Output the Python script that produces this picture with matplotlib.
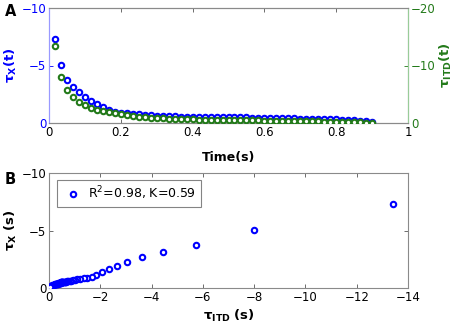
import numpy as np
import matplotlib
matplotlib.use("Agg")
import matplotlib.pyplot as plt

# time points (s)
time_s = [k / 60 for k in range(1, 55)]

# tau_X(t) (left axis of A, y of B)
tau_x = [-7.3, -5.05, -3.72, -3.14, -2.71, -2.23, -1.91, -1.65, -1.36, -1.16, -0.98,
         -0.90, -0.84, -0.78, -0.74, -0.70, -0.67, -0.64, -0.62, -0.60, -0.58,
         -0.56, -0.55, -0.54, -0.53, -0.52, -0.52, -0.51, -0.50, -0.50, -0.49,
         -0.48, -0.48, -0.47, -0.46, -0.45, -0.44, -0.43, -0.42, -0.41, -0.40,
         -0.39, -0.38, -0.37, -0.36, -0.35, -0.33, -0.31, -0.29, -0.27, -0.24,
         -0.21, -0.17, -0.12]

# tau_ITD(t) (right axis of A, x of B)
tau_itd = [-13.4, -8.0, -5.74, -4.45, -3.62, -3.06, -2.64, -2.33, -2.06, -1.84, -1.67,
           -1.50, -1.35, -1.22, -1.10, -1.00, -0.92, -0.85, -0.80, -0.75, -0.71,
           -0.67, -0.64, -0.61, -0.58, -0.56, -0.54, -0.52, -0.50, -0.49, -0.48,
           -0.47, -0.46, -0.45, -0.44, -0.43, -0.42, -0.41, -0.40, -0.38, -0.36,
           -0.34, -0.32, -0.30, -0.28, -0.26, -0.24, -0.22, -0.19, -0.16, -0.13,
           -0.10, -0.07, -0.04]

legend_text = r"R$^2$=0.98, K=0.59"

BLUE = "#0000ff"
GREEN = "#237a1a"
FS = 8.5
MS = 3.9
MEW = 1.5

fig = plt.figure(figsize=(4.54, 3.28), dpi=100)

def style(ax, color_spines="#8a8a8a"):
    for s in ax.spines.values():
        s.set_color(color_spines)
        s.set_linewidth(0.8)
    ax.tick_params(direction="in", length=3, width=0.6, labelsize=FS, pad=2,
                   color="#555555")

# ---------- Panel A ----------
axA = fig.add_axes([49/454, 1-123/328, 359/454, 115/328])
style(axA)
axA.plot(time_s, tau_x, "o", mfc="white", mec=BLUE, ms=MS, mew=MEW, zorder=3)
axA.set_xlim(0, 1)
axA.set_ylim(0, -10)
axA.set_xticks(np.arange(0, 1.01, 0.2))
axA.set_xticklabels(["0", "0.2", "0.4", "0.6", "0.8", "1"])
axA.set_yticks([0, -5, -10])
axA.tick_params(axis="y", labelcolor=BLUE, colors=BLUE)
axA.tick_params(axis="x", top=True)
axA.spines["left"].set_color("#9999ff")
axA.set_ylabel(r"$\mathbf{τ_{X}(t)}$", color=BLUE, fontsize=FS + 1, labelpad=2)
axA.set_xlabel("Time(s)", fontweight="bold", fontsize=FS + 0.5, labelpad=3)
axA.xaxis.set_label_coords(0.5, -0.24)

axA2 = axA.twinx()
style(axA2)
axA2.plot(time_s, tau_itd, "o", mfc="white", mec=GREEN, ms=MS, mew=MEW, zorder=4)
axA2.set_ylim(0, -20)
axA2.set_yticks([0, -10, -20])
axA2.tick_params(axis="y", labelcolor=GREEN, colors=GREEN)
axA2.spines["right"].set_color("#99cc99")
axA2.spines["left"].set_color("#9999ff")
axA2.set_ylabel(r"$\mathbf{τ_{ITD}(t)}$", color=GREEN, fontsize=FS + 1,
                rotation=90, labelpad=2)

fig.text(5/454, 1-12/328, "A", fontweight="bold", fontsize=FS + 2, va="center")

# ---------- Panel B ----------
axB = fig.add_axes([49/454, 1-288/328, 359/454, 115/328])
style(axB)
axB.plot(tau_itd, tau_x, "o", mfc="white", mec=BLUE, ms=MS, mew=MEW,
         label=legend_text, zorder=3)
axB.set_xlim(0, -14)
axB.set_ylim(0, -10)
axB.set_xticks(np.arange(0, -15, -2))
axB.set_yticks([0, -5, -10])
axB.tick_params(top=True, right=True)
axB.set_xlabel(r"$\mathbf{τ_{ITD}}$ $\mathbf{(s)}$", fontsize=FS + 1, labelpad=3)
axB.set_ylabel(r"$\mathbf{τ_{X}}$ $\mathbf{(s)}$", fontsize=FS + 1, labelpad=2)
leg = axB.legend(loc="upper left", fontsize=FS + 0.5, frameon=True, fancybox=False,
                 handletextpad=0.3, handlelength=1.8, borderpad=0.4,
                 bbox_to_anchor=(0.005, 0.995))
leg.get_frame().set_edgecolor("#666666")
leg.get_frame().set_linewidth(0.8)

fig.text(5/454, 1-180/328, "B", fontweight="bold", fontsize=FS + 2, va="center")

fig.savefig("out.png", dpi=100)
